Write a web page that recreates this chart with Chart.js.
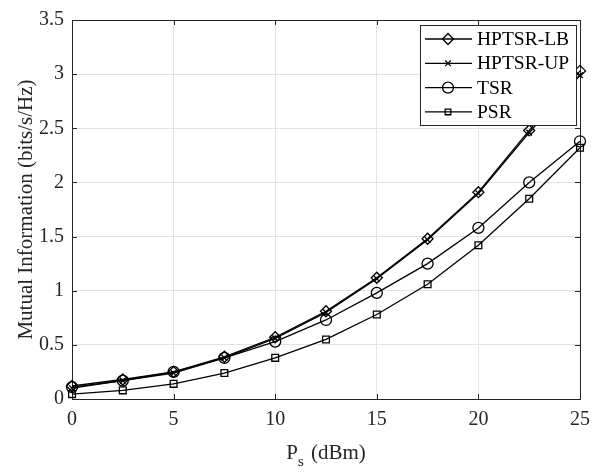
<!DOCTYPE html>
<html>
<head>
<meta charset="utf-8">
<script src="https://cdn.jsdelivr.net/npm/chart.js@4.4.0/dist/chart.umd.min.js"></script>
<style>
  html, body { margin: 0; padding: 0; background: #fff; }
  #wrap { width: 599px; height: 472px; }
</style>
</head>
<body>
<div id="wrap"><canvas id="chart1" width="599" height="472"></canvas></div>
<script>
// Values
const powerDbm = [0, 2.5, 5, 7.5, 10, 12.5, 15, 17.5, 20, 22.5, 25];
const hptsrLB = [0.12, 0.18, 0.25, 0.39, 0.57, 0.81, 1.12, 1.48, 1.91, 2.48, 3.03];
const hptsrUP = [0.10, 0.17, 0.24, 0.38, 0.56, 0.80, 1.11, 1.47, 1.90, 2.46, 2.99];
const tsr = [0.11, 0.17, 0.25, 0.38, 0.53, 0.73, 0.98, 1.25, 1.58, 2.00, 2.38];
const psr = [0.045, 0.08, 0.14, 0.24, 0.38, 0.55, 0.78, 1.06, 1.42, 1.85, 2.32];
const seriesNames = ['HPTSR-LB', 'HPTSR-UP', 'TSR', 'PSR'];
const markers = ['rectRot', 'crossRot', 'circle', 'rect'];
const xTicks = [0, 5, 10, 15, 20, 25];
const yTicks = [0, 0.5, 1, 1.5, 2, 2.5, 3, 3.5];

const FONT = '"Liberation Serif", "Times New Roman", serif';

function pts(ys) {
  return ys.map((y, i) => ({ x: powerDbm[i], y: y }));
}

const allSeries = [hptsrLB, hptsrUP, tsr, psr];
const datasets = allSeries.map((ys, i) => ({
  label: seriesNames[i],
  data: pts(ys),
  borderColor: '#000',
  borderWidth: 1.3,
  pointStyle: markers[i],
  pointRadius: markers[i] === 'rect' ? 4.8 : (markers[i] === 'crossRot' ? 4 : 5.5),
  pointBorderWidth: 1.3,
  pointBorderColor: '#000',
  pointBackgroundColor: 'rgba(0,0,0,0)',
  fill: false,
  clip: false,
  tension: 0
}));

// box, inward ticks, x title with subscript, legend
const decor = {
  id: 'decor',
  beforeDatasetsDraw(chart) {
    const ctx = chart.ctx;
    const a = chart.chartArea;
    const xs = chart.scales.x, ys = chart.scales.y;
    ctx.save();
    ctx.strokeStyle = '#262626';
    ctx.lineWidth = 1;
    ctx.strokeRect(a.left + 0.5, a.top + 0.5, a.right - a.left, a.bottom - a.top);
    ctx.beginPath();
    xTicks.forEach(v => {
      const px = Math.round(xs.getPixelForValue(v)) + 0.5;
      ctx.moveTo(px, a.bottom); ctx.lineTo(px, a.bottom - 5);
      ctx.moveTo(px, a.top); ctx.lineTo(px, a.top + 5);
    });
    yTicks.forEach(v => {
      const py = Math.round(ys.getPixelForValue(v)) + 0.5;
      ctx.moveTo(a.left, py); ctx.lineTo(a.left + 5, py);
      ctx.moveTo(a.right, py); ctx.lineTo(a.right - 5, py);
    });
    ctx.stroke();
    ctx.restore();
  },
  afterDraw(chart) {
    const ctx = chart.ctx;
    const a = chart.chartArea;
    ctx.save();
    // x axis title: P_s (dBm)
    ctx.fillStyle = '#262626';
    ctx.textBaseline = 'alphabetic';
    ctx.font = '21px ' + FONT;
    const wP = ctx.measureText('P').width;
    ctx.font = '15px ' + FONT;
    const wS = ctx.measureText('s').width;
    ctx.font = '21px ' + FONT;
    const rest = ' (dBm)';
    const wR = ctx.measureText(rest).width;
    const total = wP + wS + 2 + wR;
    let x0 = (a.left + a.right) / 2 - total / 2;
    const base = 459;
    ctx.textAlign = 'left';
    ctx.fillText('P', x0, base);
    ctx.font = '15px ' + FONT;
    ctx.fillText('s', x0 + wP, base + 7);
    ctx.font = '21px ' + FONT;
    ctx.fillText(rest, x0 + wP + wS + 2, base);

    // legend
    const lx = 420, ly = 25, lw = 156, lh = 100;
    ctx.fillStyle = '#fff';
    ctx.fillRect(lx, ly, lw, lh);
    ctx.strokeStyle = '#262626';
    ctx.lineWidth = 1;
    ctx.strokeRect(lx + 0.5, ly + 0.5, lw, lh);
    chart.data.datasets.forEach((ds, i) => {
      const cy = ly + 14 + i * 24.3;
      ctx.strokeStyle = '#000';
      ctx.lineWidth = 1.3;
      ctx.beginPath();
      ctx.moveTo(lx + 5, cy); ctx.lineTo(lx + 52, cy);
      ctx.stroke();
      ctx.fillStyle = 'rgba(0,0,0,0)';
      Chart.helpers.drawPoint(ctx, {
        pointStyle: ds.pointStyle,
        radius: ds.pointStyle === 'rect' ? 4 : ds.pointRadius,
        borderWidth: 1.3,
        rotation: 0
      }, lx + 28, cy);
      ctx.fillStyle = '#000';
      ctx.font = '19.5px ' + FONT;
      ctx.textAlign = 'left';
      ctx.textBaseline = 'middle';
      ctx.fillText(ds.label, lx + 57, cy + 1);
    });
    ctx.restore();
  }
};

new Chart(document.getElementById('chart1'), {
  type: 'line',
  data: { datasets: datasets },
  options: {
    responsive: false,
    animation: false,
    layout: { padding: { top: 13, right: 10, left: 0, bottom: 0 } },
    plugins: {
      legend: { display: false },
      tooltip: { enabled: false }
    },
    scales: {
      x: {
        type: 'linear',
        min: 0, max: 25,
        afterBuildTicks: s => { s.ticks = xTicks.map(v => ({ value: v })); },
        afterFit: s => { s.height = 73; },
        grid: { color: '#e3e3e3', drawTicks: false },
        border: { display: false },
        ticks: { color: '#262626', font: { family: FONT, size: 20 }, padding: 9, maxRotation: 0,
                 callback: v => String(v) }
      },
      y: {
        min: 0, max: 3.5,
        afterBuildTicks: s => { s.ticks = yTicks.map(v => ({ value: v })); },
        afterFit: s => { s.width = 72; },
        grid: { color: '#e3e3e3', drawTicks: false },
        border: { display: false },
        ticks: { color: '#262626', font: { family: FONT, size: 20 }, padding: 8,
                 callback: v => String(v) },
        title: {
          display: true,
          text: 'Mutual Information (bits/s/Hz)',
          color: '#262626',
          font: { family: FONT, size: 21 },
          padding: { top: 14, bottom: 0 }
        }
      }
    }
  },
  plugins: [decor]
});
</script>
</body>
</html>
